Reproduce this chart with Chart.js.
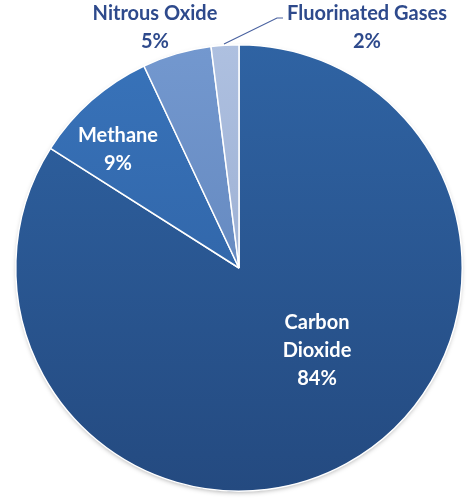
<!DOCTYPE html>
<html>
<head>
<meta charset="utf-8">
<script src="https://cdn.jsdelivr.net/npm/chart.js@4"></script>
<style>
  html, body { margin: 0; padding: 0; background: #fff; }
  #wrap { width: 476px; height: 502px; }
</style>
</head>
<body>
<div id="wrap"><canvas id="gases"></canvas></div>
<script>
// data
const gasNames = ['Carbon Dioxide', 'Methane', 'Nitrous Oxide', 'Fluorinated Gases'];
const gasShares = [84, 9, 5, 2];
const labelLines = [['Carbon', 'Dioxide'], ['Methane'], ['Nitrous Oxide'], ['Fluorinated Gases']];

// top / bottom colours of each slice gradient
const topColors = ['#2f63a3', '#3873ba', '#7398cf', '#aec0e0'];
const bottomColors = ['#244a80', '#2c5c9c', '#5a7db3', '#8ea3c9'];

function sliceFill(context) {
  const chart = context.chart;
  const area = chart.chartArea;
  if (!area) return topColors[context.dataIndex];
  const g = chart.ctx.createLinearGradient(0, area.top, 0, area.bottom);
  g.addColorStop(0, topColors[context.dataIndex]);
  g.addColorStop(1, bottomColors[context.dataIndex]);
  return g;
}

// soft shadow behind the pie
const pieShadow = {
  id: 'pieShadow',
  beforeDatasetsDraw(chart) {
    const arc = chart.getDatasetMeta(0).data[0];
    if (!arc) return;
    const ctx = chart.ctx;
    ctx.save();
    ctx.shadowColor = 'rgba(0,0,0,0.35)';
    ctx.shadowBlur = 5;
    ctx.shadowOffsetY = 2;
    ctx.fillStyle = '#2a5690';
    ctx.beginPath();
    ctx.arc(arc.x, arc.y, arc.outerRadius - 1, 0, Math.PI * 2);
    ctx.fill();
    ctx.restore();
  }
};

// slice labels: inside ones white, outside ones navy
const sliceLabels = {
  id: 'sliceLabels',
  afterDatasetsDraw(chart) {
    const ctx = chart.ctx;
    const arc = chart.getDatasetMeta(0).data[0];
    const cx = arc.x, cy = arc.y;
    // offsets from the pie centre
    const spots = [
      { dx: 78, dy: 55, color: '#ffffff' },
      { dx: -121, dy: -132, color: '#ffffff' },
      { dx: -84, dy: -254, color: '#2e4a8c' },
      { dx: 128, dy: -254, color: '#2e4a8c' }
    ];
    ctx.save();
    ctx.font = 'bold 20px Lato, "Open Sans", sans-serif';
    ctx.textAlign = 'center';
    ctx.textBaseline = 'middle';
    gasShares.forEach((v, i) => {
      const s = spots[i];
      const lines = labelLines[i].concat([v + '%']);
      ctx.fillStyle = s.color;
      lines.forEach((t, k) => {
        ctx.fillText(t, cx + s.dx, cy + s.dy + k * 28);
      });
    });
    // leader line for the small slice
    ctx.strokeStyle = '#4a62a0';
    ctx.lineWidth = 1.2;
    ctx.beginPath();
    ctx.moveTo(cx - 15, cy - 224);
    ctx.lineTo(cx + 38, cy - 250);
    ctx.lineTo(cx + 44, cy - 250);
    ctx.stroke();
    ctx.restore();
  }
};

new Chart(document.getElementById('gases'), {
  type: 'pie',
  data: {
    labels: gasNames,
    datasets: [{
      data: gasShares,
      backgroundColor: sliceFill,
      borderColor: '#ffffff',
      borderWidth: 1.5
    }]
  },
  options: {
    responsive: true,
    maintainAspectRatio: false,
    animation: false,
    layout: { padding: { left: 15, right: 13, top: 44, bottom: 10 } },
    plugins: {
      legend: { display: false },
      tooltip: { enabled: false }
    }
  },
  plugins: [pieShadow, sliceLabels]
});
</script>
</body>
</html>
